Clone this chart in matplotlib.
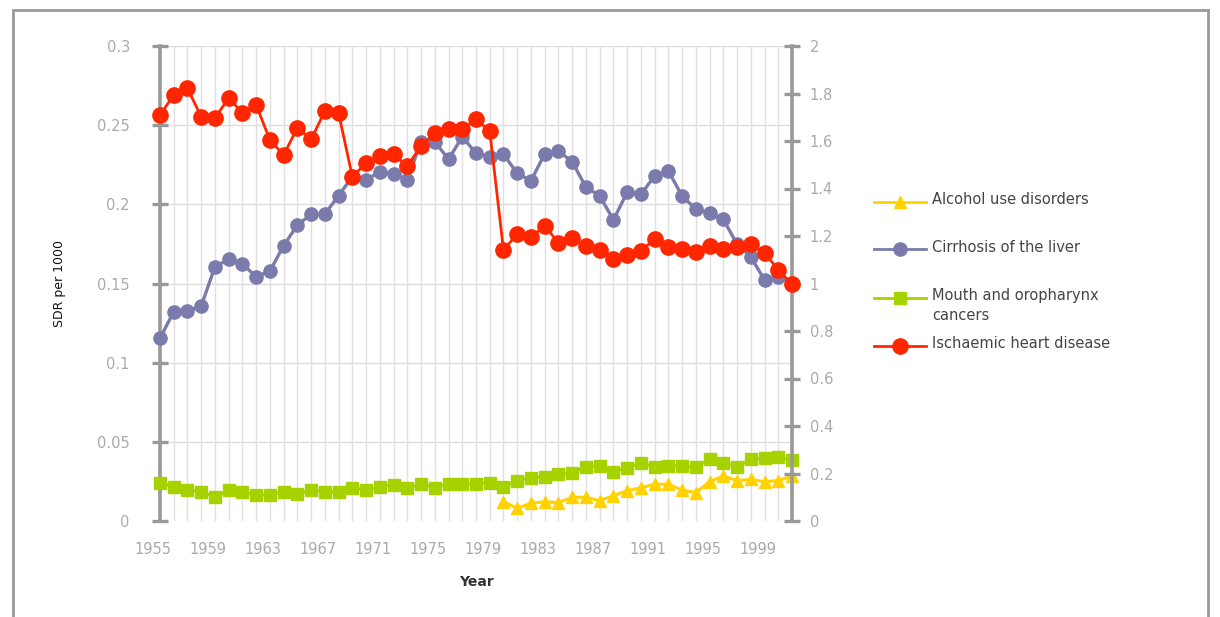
import matplotlib
matplotlib.use("Agg")
import matplotlib.pyplot as plt
from matplotlib.lines import Line2D
from matplotlib.patches import Rectangle
import matplotlib.transforms as mtransforms
import numpy as np

years = list(range(1955, 2002))

cirrhosis = [0.1154, 0.1322, 0.1328, 0.1358, 0.1606, 0.1653, 0.1623, 0.1543, 0.1579, 0.1739,
             0.1869, 0.1937, 0.1939, 0.2055, 0.2175, 0.2154, 0.2206, 0.2192, 0.2154, 0.2396,
             0.2396, 0.2284, 0.2427, 0.2322, 0.2301, 0.2316, 0.2196, 0.2149, 0.2318, 0.2337,
             0.2269, 0.2108, 0.2055, 0.1901, 0.2076, 0.2063, 0.2179, 0.2211, 0.2053, 0.1969,
             0.1943, 0.1905, 0.1749, 0.1669, 0.1522, 0.1543, 0.1505]

mouth = [0.0242, 0.0217, 0.0196, 0.0185, 0.0150, 0.0196, 0.0185, 0.0164, 0.0164, 0.0185,
         0.0171, 0.0196, 0.0185, 0.0185, 0.0210, 0.0196, 0.0217, 0.0227, 0.0206, 0.0234,
         0.0210, 0.0234, 0.0234, 0.0236, 0.0242, 0.0217, 0.0255, 0.0274, 0.0280, 0.0297,
         0.0305, 0.0343, 0.0349, 0.0312, 0.0337, 0.0364, 0.0343, 0.0349, 0.0349, 0.0339,
         0.0390, 0.0368, 0.0343, 0.0390, 0.0396, 0.0402, 0.0385]

alcohol_years = list(range(1980, 2002))
alcohol = [0.0122, 0.0080, 0.0112, 0.0122, 0.0116, 0.0150, 0.0150, 0.0128, 0.0160, 0.0191,
           0.0210, 0.0232, 0.0232, 0.0196, 0.0179, 0.0248, 0.0284, 0.0255, 0.0263, 0.0248,
           0.0255, 0.0284]

ischaemic = [1.709, 1.794, 1.822, 1.702, 1.698, 1.780, 1.719, 1.752, 1.604, 1.541,
             1.656, 1.607, 1.726, 1.717, 1.450, 1.506, 1.537, 1.544, 1.495, 1.579,
             1.632, 1.649, 1.649, 1.691, 1.642, 1.141, 1.208, 1.197, 1.242, 1.172,
             1.190, 1.158, 1.141, 1.102, 1.120, 1.138, 1.186, 1.155, 1.144, 1.134,
             1.158, 1.145, 1.155, 1.166, 1.130, 1.057, 0.998]

left_ticks = [0, 0.05, 0.1, 0.15, 0.2, 0.25, 0.3]
left_labels = ["0", "0.05", "0.1", "0.15", "0.2", "0.25", "0.3"]
right_ticks = [0, 0.2, 0.4, 0.6, 0.8, 1.0, 1.2, 1.4, 1.6, 1.8, 2.0]
right_labels = ["0", "0.2", "0.4", "0.6", "0.8", "1", "1.2", "1.4", "1.6", "1.8", "2"]
x_ticks = list(range(1955, 2000, 4))

labels = ["Alcohol use disorders", "Cirrhosis of the liver",
          "Mouth and oropharynx\ncancers", "Ischaemic heart disease"]

C_ALC = "#FFD200"
C_CIR = "#7A7AAC"
C_MOU = "#A6D200"
C_ISC = "#FF2600"
AXC = "#999999"
TXC = "#AAAAAA"

W, H = 1220, 617
fig = plt.figure(figsize=(W / 100, H / 100), dpi=100)
plt.rcParams['font.family'] = ['DejaVu Sans']

# outer frame
fig.add_artist(Rectangle((13 / W, -0.2), (1208 - 13) / W, 1.2 - 10 / H,
                         transform=fig.transFigure, fill=False, edgecolor="#999999",
                         linewidth=2.0))

ax = fig.add_axes([160 / W, 1 - 521 / H, (792 - 160) / W, (521 - 46) / H])
ax.set_xlim(1955, 2001)
ax.set_ylim(0, 0.3)

# grids
for yv in left_ticks[1:]:
    ax.axhline(yv, color="#DDDDDD", lw=1.0, zorder=0)
for yr in years[1:]:
    ax.axvline(yr, color="#E0E0E0", lw=1.0, zorder=0)

ax.plot(years, mouth, color=C_MOU, lw=2.2, marker="s", ms=8, zorder=3, clip_on=False)
ax.plot(years, cirrhosis, color=C_CIR, lw=2.4, marker="o", ms=9.5, zorder=4, clip_on=False)
ax.plot(alcohol_years, alcohol, color=C_ALC, lw=2.2, marker="^", ms=9, zorder=3, clip_on=False)

for s in ["top", "bottom", "right"]:
    ax.spines[s].set_visible(False)
ax.spines["left"].set_color(AXC)
ax.spines["left"].set_linewidth(2.6)

ax.set_yticks(left_ticks)
ax.set_yticklabels(left_labels)
ax.tick_params(axis="y", direction="inout", length=11.5, width=2.4, color=AXC,
               labelcolor=TXC, labelsize=10.5, pad=16)
ax.set_xticks(x_ticks)
ax.set_xticklabels([str(x) for x in x_ticks])
ax.tick_params(axis="x", length=0, labelcolor=TXC, labelsize=10.5, pad=15)
offset = mtransforms.ScaledTranslation(-7 / 100, 0, fig.dpi_scale_trans)
for lab in ax.get_xticklabels():
    lab.set_transform(lab.get_transform() + offset)

ax.set_xlabel("Year", fontsize=10, color="#333333", fontweight="bold", labelpad=13)
ax.set_ylabel("SDR per 1000", fontsize=9, color="#111111", labelpad=22)

ax2 = ax.twinx()
ax2.set_ylim(0, 2)
ax2.plot(years, ischaemic, color=C_ISC, lw=2.0, marker="o", ms=11, zorder=5, clip_on=False)
for s in ["top", "bottom", "left"]:
    ax2.spines[s].set_visible(False)
ax2.spines["right"].set_color(AXC)
ax2.spines["right"].set_linewidth(2.6)
ax2.set_yticks(right_ticks)
ax2.set_yticklabels(right_labels)
ax2.tick_params(axis="y", direction="inout", length=11.5, width=2.4, color=AXC,
                labelcolor=TXC, labelsize=10.5, pad=7)

# legend (manual)
leg = [(C_ALC, "^", 9, labels[0], 202),
       (C_CIR, "o", 9.5, labels[1], 249),
       (C_MOU, "s", 8, labels[2], 298),
       (C_ISC, "o", 11, labels[3], 346)]
for col, mk, ms, lab, yp in leg:
    yf = 1 - yp / H
    fig.add_artist(Line2D([874 / W, 926 / W], [yf, yf], transform=fig.transFigure,
                          color=col, lw=2))
    fig.add_artist(Line2D([900 / W], [yf], transform=fig.transFigure,
                          color=col, marker=mk, ms=ms, lw=0))
    if "\n" in lab:
        fig.text(932 / W, 1 - (298 - 10) / H, lab, fontsize=10.5, color="#444444",
                 va="top", ha="left", linespacing=1.45)
    else:
        fig.text(932 / W, 1 - (yp - 2) / H, lab, fontsize=10.5, color="#444444",
                 va="center", ha="left")

fig.savefig("out.png", dpi=100)
